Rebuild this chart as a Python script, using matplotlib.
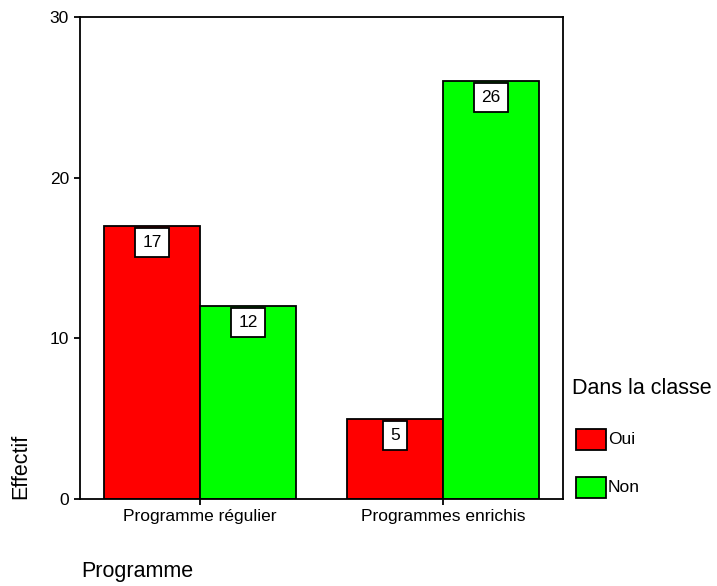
import matplotlib
matplotlib.use("Agg")
import matplotlib.pyplot as plt
from matplotlib.patches import Rectangle
import numpy as np

plt.rcParams["font.family"] = ["Liberation Sans", "DejaVu Sans"]

categories = ["Programme régulier", "Programmes enrichis"]
series_names = ["Oui", "Non"]
oui = [17, 5]
non = [12, 26]
colors = ["#ff0000", "#00ff00"]
yticks = [0, 10, 20, 30]

W, H = 717, 586
fig = plt.figure(figsize=(W / 100, H / 100), dpi=100)
ax = fig.add_axes([80 / W, 1 - 499 / H, 483 / W, 482 / H])

x = np.arange(len(categories))
w = 0.395
for vals, off, col in [(oui, -w / 2, colors[0]), (non, w / 2, colors[1])]:
    bars = ax.bar(x + off, vals, width=w, color=col, edgecolor="black", linewidth=1.3)
    for b, v in zip(bars, vals):
        ax.annotate(str(v), (b.get_x() + b.get_width() / 2, b.get_height()),
                    xytext=(0, -11.8), textcoords="offset points",
                    ha="center", va="center", fontsize=12.5,
                    bbox=dict(boxstyle="square,pad=0.4", facecolor="white",
                              edgecolor="black", linewidth=1.3))

ax.set_xlim(-0.494, 1.494)
ax.set_ylim(0, 30)
ax.set_yticks(yticks)
ax.set_xticks(x)
ax.set_xticklabels(categories)
ax.tick_params(axis="both", labelsize=12.5, length=4, width=1.3, direction="out")
ax.tick_params(axis="y", pad=4)
ax.tick_params(axis="x", pad=3)
for s in ax.spines.values():
    s.set_linewidth(1.3)

fig.text(21 / W, 1 - 466 / H, "Effectif", rotation=90, ha="center", va="center", fontsize=15.5)
fig.text(81 / W, 1 - 571 / H, "Programme", ha="left", va="center", fontsize=15.5)

# legend
fig.text(572 / W, 1 - 388 / H, "Dans la classe", ha="left", va="center", fontsize=15.5)
for i, (name, col) in enumerate(zip(series_names, colors)):
    top = 429 + i * 48
    fig.add_artist(Rectangle((576 / W, 1 - (top + 21) / H), 30 / W, 21 / H,
                             facecolor=col, edgecolor="black", linewidth=1.3,
                             transform=fig.transFigure))
    fig.text(608 / W, 1 - (top + 11) / H, name, ha="left", va="center", fontsize=12.5)

fig.savefig("out.png", dpi=100)
